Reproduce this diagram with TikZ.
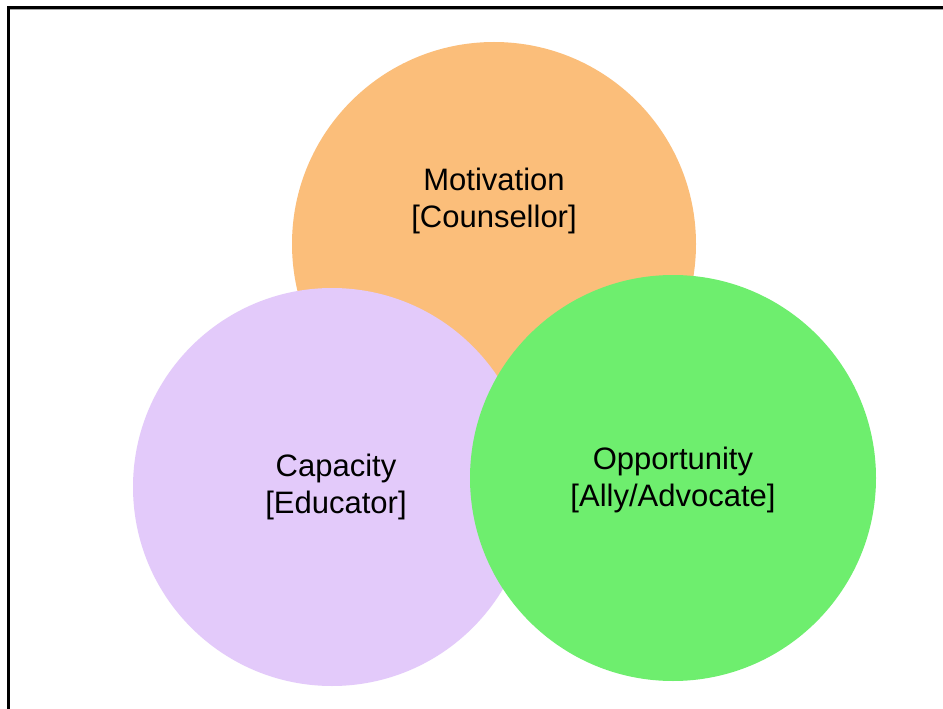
\documentclass[tikz,border=0pt]{standalone}
\usepackage{fontspec}
\setmainfont{Liberation Sans}
\definecolor{motiv}{RGB}{251,190,122}
\definecolor{capac}{RGB}{227,202,250}
\definecolor{oppor}{RGB}{110,238,110}
\begin{document}
\begin{tikzpicture}[x=1pt,y=-1pt,
  disc/.style={circle,minimum size=#1,inner sep=0pt,draw=none},
  label/.style={align=center,font=\fontsize{31}{37}\selectfont,text=black}]
\useasboundingbox[fill=white] (0,0) rectangle (943,709);
% frame edges
\draw[line width=3.2pt,black] (8.5,711) -- (8.5,7.6) -- (945,7.6);
\draw[line width=1pt,black!35] (10,10) -- (945,10);
% circles
\node[disc=404pt,fill=motiv] (mot) at (494,244) {};
\node[disc=398pt,fill=capac] (cap) at (332,487) {};
\node[disc=406pt,fill=oppor] (opp) at (673,478) {};
% texts
\node[label] (tmot) at (494,201) {Motivation\\{}[Counsellor]};
\node[label] (tcap) at (336,487) {Capacity\\{}[Educator]};
\node[label] (topp) at (673,480) {Opportunity\\{}[Ally/Advocate]};
\end{tikzpicture}
\end{document}
